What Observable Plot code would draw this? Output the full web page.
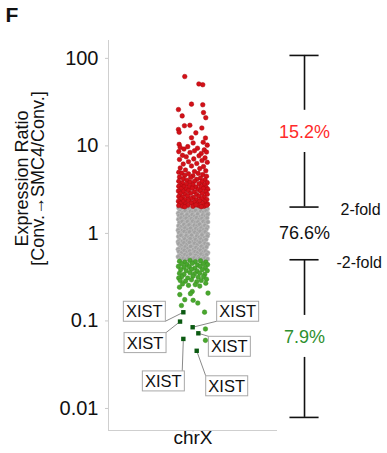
<!DOCTYPE html>
<html>
<head>
<meta charset="utf-8">
<script src="https://cdn.jsdelivr.net/npm/d3@7"></script>
<script src="https://cdn.jsdelivr.net/npm/@observablehq/plot@0.6"></script>
<style>
  html, body { margin: 0; padding: 0; background: white; }
</style>
</head>
<body>
<div id="chart"></div>
<script>
// ---------------- DATA ----------------
const category = "chrX";
const yTickValues = [0.01, 0.1, 1, 10, 100];
const yTickLabels = ["0.01", "0.1", "1", "10", "100"];
const yAxisLines = ["Expression Ratio", "[Conv.\u2192SMC4/Conv.]"];
const panelLetter = "F";

// [jitter within strip (-1..1), expression ratio]
const redPoints = [
  [-0.55,62],[0.39,51],[0.65,50],[-0.1,30],[0.65,29.5],[-0.97,26],[0.7,24],[-0.72,22],[0.85,21],
  [-0.57,17],[-0.21,17.2],[0.59,16],[-0.97,15.4],[-0.92,14.3],[0.19,14.1],[-0.1,12.4],[0.83,12.3],
  [0.68,11],[0.01,10.8],[-0.92,10.4],[0.95,10.2],
  [-0.85,9.6],[-0.6,9.2],[-0.35,9.8],[0.3,9.4],[0.75,9.0],[-0.95,8.6],[-0.2,8.4],[0.1,8.8],[0.55,8.2],
  [0.9,8.5],[-0.7,7.8],[-0.45,7.5],[0.4,7.7],[0.8,7.3],[-0.9,7.0],[0.05,7.1],[0.6,6.8],[-0.3,6.6],
  [0.95,6.5],[-0.65,6.2],[0.25,6.3],[-0.1,5.9],[0.7,5.8],[-0.85,5.6],[0.45,5.5],[-0.5,5.3],[0.85,5.2],
  [0.1,5.1],[-0.95,5.0],
  [-0.75,4.9],[-0.3,4.8],[0.35,4.85],[0.65,4.7],[-0.55,4.6],[0.0,4.55],[0.9,4.5],[-0.9,4.4],[-0.15,4.35],
  [0.5,4.3],[-0.65,4.2],[0.25,4.15],[0.8,4.1],[-0.4,4.05],[-0.95,3.95],[0.1,3.95],[0.6,3.9],[-0.2,3.85],
  [0.95,3.8],[-0.7,3.75],[0.4,3.7],[-0.45,3.65],[0.75,3.6],[0.0,3.6],[-0.85,3.55],
  [-0.95,3.45],[-0.6,3.4],[-0.25,3.42],[0.2,3.38],[0.55,3.44],[0.88,3.36],
  [-0.8,3.25],[-0.45,3.2],[-0.05,3.28],[0.35,3.18],[0.7,3.26],[0.98,3.2],
  [-0.97,3.05],[-0.65,3.0],[-0.3,3.08],[0.1,2.98],[0.5,3.06],[0.85,3.0],
  [-0.85,2.85],[-0.5,2.8],[-0.15,2.88],[0.25,2.78],[0.62,2.86],[0.95,2.8],
  [-0.95,2.64],[-0.7,2.6],[-0.35,2.68],[0.02,2.58],[0.4,2.66],[0.75,2.6],
  [-0.82,2.48],[-0.5,2.44],[-0.15,2.5],[0.22,2.42],[0.58,2.48],[0.92,2.44],
  [-0.97,2.33],[-0.65,2.3],[-0.3,2.36],[0.08,2.28],[0.45,2.34],[0.8,2.3],
  [-0.85,2.2],[-0.5,2.17],[-0.12,2.22],[0.28,2.15],[0.65,2.2],[0.97,2.16],
  [-0.95,2.08],[-0.7,2.05],[-0.35,2.1],[0.0,2.04],[0.38,2.09],[0.75,2.05],[0.92,2.1],[-0.55,2.02],[0.55,2.02],[0.2,2.12]
];

const grayPoints = [
  [-0.95,1.95],[-0.78,1.9],[-0.6,1.97],[-0.42,1.88],[-0.25,1.94],[-0.08,1.86],[0.1,1.96],[0.27,1.89],[0.45,1.95],[0.62,1.87],[0.8,1.93],[0.96,1.9],
  [-0.88,1.78],[-0.7,1.72],[-0.52,1.82],[-0.35,1.7],[-0.17,1.79],[0.0,1.74],[0.18,1.83],[0.35,1.71],[0.53,1.8],[0.7,1.73],[0.88,1.81],[-0.98,1.7],[0.99,1.69],
  [-0.93,1.6],[-0.75,1.65],[-0.57,1.56],[-0.4,1.63],[-0.22,1.55],[-0.05,1.64],[0.12,1.57],[0.3,1.66],[0.48,1.54],[0.65,1.62],[0.83,1.58],[0.97,1.64],
  [-0.97,1.45],[-0.8,1.5],[-0.62,1.42],[-0.45,1.49],[-0.28,1.41],[-0.1,1.47],[0.07,1.43],[0.24,1.51],[0.42,1.44],[0.6,1.48],[0.77,1.41],[0.94,1.5],
  [-0.9,1.33],[-0.72,1.37],[-0.55,1.3],[-0.37,1.36],[-0.19,1.29],[-0.02,1.38],[0.15,1.32],[0.33,1.35],[0.5,1.28],[0.68,1.37],[0.85,1.31],[0.99,1.35],
  [-0.96,1.22],[-0.78,1.19],[-0.6,1.26],[-0.43,1.2],[-0.26,1.25],[-0.08,1.18],[0.09,1.24],[0.27,1.21],[0.44,1.27],[0.62,1.19],[0.79,1.23],[0.96,1.18],
  [-0.88,1.12],[-0.7,1.08],[-0.53,1.15],[-0.35,1.1],[-0.17,1.14],[0.01,1.07],[0.19,1.13],[0.36,1.09],[0.54,1.15],[0.71,1.1],[0.89,1.12],[-0.99,1.09],
  [-0.93,1.02],[-0.76,0.98],[-0.58,1.05],[-0.41,1.0],[-0.23,1.04],[-0.05,0.97],[0.12,1.03],[0.3,0.99],[0.47,1.06],[0.65,1.0],[0.82,1.04],[0.98,0.98],
  [-0.97,0.92],[-0.8,0.95],[-0.62,0.89],[-0.45,0.94],[-0.27,0.9],[-0.1,0.95],[0.08,0.88],[0.25,0.93],[0.43,0.9],[0.6,0.96],[0.78,0.89],[0.95,0.93],
  [-0.9,0.84],[-0.72,0.81],[-0.55,0.86],[-0.37,0.82],[-0.19,0.87],[-0.01,0.8],[0.17,0.85],[0.34,0.81],[0.52,0.86],[0.69,0.82],[0.87,0.85],[-0.99,0.8],
  [-0.95,0.76],[-0.77,0.73],[-0.6,0.78],[-0.42,0.74],[-0.24,0.79],[-0.06,0.72],[0.11,0.77],[0.29,0.74],[0.46,0.79],[0.64,0.73],[0.81,0.77],[0.98,0.75],
  [-0.88,0.68],[-0.7,0.66],[-0.52,0.7],[-0.34,0.67],[-0.16,0.71],[0.02,0.65],[0.2,0.69],[0.37,0.66],[0.55,0.71],[0.72,0.67],[0.9,0.7],[-0.99,0.66],
  [-0.94,0.62],[-0.76,0.6],[-0.58,0.64],[-0.4,0.61],[-0.22,0.63],[-0.04,0.59],[0.14,0.62],[0.31,0.6],[0.49,0.64],[0.67,0.61],[0.84,0.63],[0.99,0.6],
  [-0.9,0.56],[-0.72,0.54],[-0.54,0.57],[-0.36,0.55],[-0.18,0.58],[0,0.53],[0.18,0.56],[0.36,0.54],[0.54,0.58],[0.72,0.55],[0.9,0.57],[-0.99,0.54],
  [-0.83,0.51],[-0.64,0.52],[-0.46,0.505],[-0.28,0.52],[-0.1,0.51],[0.08,0.525],[0.26,0.505],[0.44,0.52],[0.62,0.51],[0.8,0.525],[0.97,0.51]
];

const greenPoints = [
  [-0.9,0.48],[-0.55,0.47],[-0.2,0.49],[0.15,0.475],[0.5,0.485],[0.85,0.47],
  [-0.75,0.45],[-0.4,0.44],[-0.05,0.455],[0.3,0.435],[0.68,0.45],[0.97,0.44],
  [-0.97,0.42],[-0.6,0.41],[-0.25,0.415],[0.12,0.4],[0.48,0.42],[0.82,0.405],
  [-0.82,0.385],[-0.45,0.375],[-0.1,0.39],[0.28,0.37],[0.62,0.385],[0.95,0.375],
  [-0.9,0.35],[-0.6,0.34],[-0.2,0.355],[0.1,0.345],[0.45,0.35],[0.78,0.34],
  [-0.75,0.32],[-0.35,0.31],[0.0,0.325],[0.35,0.315],[0.7,0.32],[-0.95,0.31],
  [-0.85,0.29],[-0.5,0.285],[-0.1,0.295],[0.25,0.28],[0.55,0.29],[0.9,0.3],
  [-0.7,0.265],[-0.3,0.255],[0.15,0.26],[0.45,0.25],[0.85,0.27],
  [-0.9,0.243],[-0.05,0.217],[1.0,0.208],[-0.88,0.2],[-0.17,0.205],[-0.55,0.175],[0.01,0.172],
  [0.32,0.16],[-0.77,0.15],[0.77,0.126],[0.83,0.081],[0.83,0.06]
];

const xistPoints = [
  [-0.61,0.124],[-0.83,0.097],[0.01,0.0836],[0.39,0.0713],[-0.61,0.0615],[0.28,0.045]
];
const xistLabel = "XIST";

// Bracket annotation (fold-change groups)
const bracketCaps = [108, 2, 0.5, 0.0079];
const bracketSegments = [[108, 25.5], [8.4, 2], [0.5, 0.1156], [0.0383, 0.0079]];
const groupLabels = ["15.2%", "76.6%", "7.9%"];
const groupLabelValues = [14.3, 1.0, 0.0648];
const foldLabels = ["2-fold", "-2-fold"];
const foldValues = [2, 0.5];

// ---------------- LAYOUT / STYLE ----------------
const W = 387, H = 453;
const FONT = "'Liberation Sans', Arial, Helvetica, sans-serif";
const xDomain = [-5.63, 5.63];
const yDomain = [0.0056, 160];
const bracketX = 7.43, capHalf = 0.97;
const colors = {red: "#d41018", gray: "#a2a2a2", green: "#49a82e", xist: "#0b5a12",
  pctRed: "#ff2b2b", pctGreen: "#2e8f2e", axis: "#cfcfcf"};
// label box offsets (px) relative to each XIST point, and leader corner
const labelLayout = [
  {dx: -39, dy: -1, cx: 1, cy: 1},
  {dx: -35, dy: 21, cx: 1, cy: -1},
  {dx: 45, dy: -16, cx: -1, cy: 1},
  {dx: 31, dy: 13, cx: -1, cy: -1},
  {dx: -20, dy: 42, cx: 0.9, cy: -1},
  {dx: 30, dy: 35, cx: -1, cy: -1}
];

const toObj = ([j, v]) => ({j, v});
const red = redPoints.map(toObj), gray = grayPoints.map(toObj),
      green = greenPoints.map(toObj), xist = xistPoints.map(toObj);

const plot = Plot.plot({
  width: W, height: H,
  marginLeft: 108, marginRight: 110, marginTop: 40, marginBottom: 23,
  style: {fontFamily: FONT, background: "white", overflow: "visible"},
  x: {domain: xDomain},
  y: {type: "log", domain: yDomain},
  marks: [
    Plot.ruleX([xDomain[0]], {stroke: colors.axis, strokeWidth: 1}),
    Plot.ruleY([yDomain[0]], {stroke: colors.axis, strokeWidth: 1}),
    Plot.axisY({ticks: yTickValues, tickFormat: (d) => yTickLabels[yTickValues.indexOf(d)],
      tickSize: 3, tickPadding: 7, stroke: "#c8c8c8", fill: "#111", fontSize: 20, label: null}),
    Plot.axisX({ticks: [0], tickFormat: () => "", tickSize: 2, stroke: "#c8c8c8", label: null}),
    Plot.text([category], {x: 0, frameAnchor: "bottom", dy: 13, fontSize: 19, fill: "#111"}),
    Plot.text([yAxisLines[0]], {frameAnchor: "left", textAnchor: "middle", dx: -86, dy: -57, rotate: -90, fontSize: 18, fill: "#111"}),
    Plot.text([yAxisLines[1]], {frameAnchor: "left", textAnchor: "middle", dx: -70, dy: -57, rotate: -90, fontSize: 18, fill: "#111"}),
    Plot.text([panelLetter], {frameAnchor: "top-left", dx: -103, dy: -33, lineAnchor: "top", textAnchor: "start",
      fontSize: 21, fontWeight: "bold", fill: "#111"}),
    Plot.dot(gray, {x: (d) => d.j, y: "v", r: 2.3, fill: colors.gray, stroke: "#c4c4c4", strokeWidth: 0.5}),
    Plot.dot(red, {x: (d) => d.j, y: "v", r: 2.3, fill: colors.red, stroke: "#a80a0e", strokeWidth: 0.5}),
    Plot.dot(green, {x: (d) => d.j, y: "v", r: 2.3, fill: colors.green, stroke: "#3a8f22", strokeWidth: 0.5}),
    // bracket
    Plot.ruleX(bracketSegments, {x: () => bracketX, y1: (d) => d[0], y2: (d) => d[1], stroke: "#111", strokeWidth: 1.6}),
    Plot.ruleY(bracketCaps, {x1: bracketX - capHalf, x2: bracketX + capHalf, stroke: "#111", strokeWidth: 1.6}),
    Plot.text(groupLabels, {x: () => bracketX, y: (d, i) => groupLabelValues[i], fontSize: 18,
      fill: (d, i) => [colors.pctRed, "#111", colors.pctGreen][i]}),
    Plot.text(foldLabels, {x: () => bracketX, y: (d, i) => foldValues[i], dx: 0, dy: 3, fontSize: 16,
      fill: "#111", textAnchor: "start"})
  ]
});

document.getElementById("chart").appendChild(plot);

// XIST points and label boxes, positioned with the plot's own scales
const sx = plot.scale("x"), sy = plot.scale("y");
const svg = d3.select(plot);
const g = svg.append("g");
const BW = 42, BH = 20;
xist.forEach((d, i) => {
  const px = sx.apply(d.j), py = sy.apply(d.v);
  const L = labelLayout[i];
  const bx = px + L.dx, by = py + L.dy;
  const ex = bx + L.cx * BW / 2, ey = by + L.cy * BH / 2;
  g.append("line").attr("x1", px).attr("y1", py).attr("x2", ex).attr("y2", ey)
    .attr("stroke", "#8a8a8a").attr("stroke-width", 1);
  g.append("rect").attr("x", bx - BW / 2).attr("y", by - BH / 2).attr("width", BW).attr("height", BH)
    .attr("fill", "white").attr("stroke", "#a8a8a8").attr("stroke-width", 1);
  g.append("text").attr("x", bx).attr("y", by).attr("dy", "0.36em").attr("text-anchor", "middle")
    .attr("font-size", 16.5).attr("fill", "#111").text(xistLabel);
});
xist.forEach((d) => {
  const px = sx.apply(d.j), py = sy.apply(d.v);
  g.append("rect").attr("x", px - 2.2).attr("y", py - 2.2).attr("width", 4.4).attr("height", 4.4)
    .attr("fill", colors.xist);
});
// fold labels offsets (px)
svg.selectAll("text").filter(function () { return this.textContent === "2-fold"; }).attr("dx", 36);
svg.selectAll("text").filter(function () { return this.textContent === "-2-fold"; }).attr("dx", 32);
</script>
</body>
</html>
